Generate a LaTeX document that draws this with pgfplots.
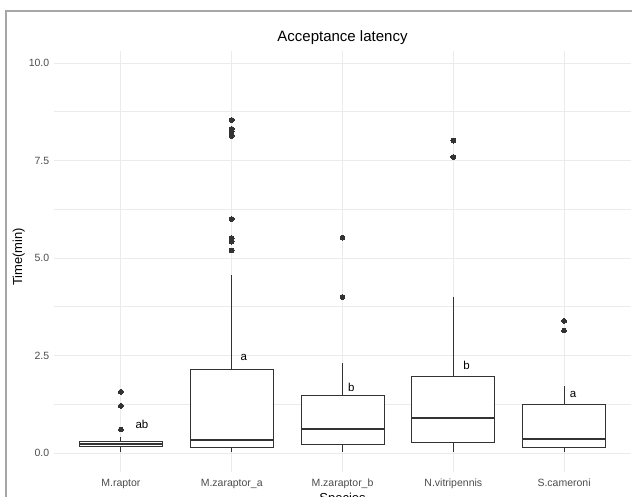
\documentclass[border=0pt]{standalone}
\usepackage{fontspec}
\setmainfont{Liberation Sans}
\usepackage{pgfplots}
\pgfplotsset{compat=1.18}
\usepgfplotslibrary{statistics}
\definecolor{gridc}{HTML}{EBEBEB}
\definecolor{tickc}{HTML}{4D4D4D}
\definecolor{boxc}{HTML}{333333}
\definecolor{framec}{HTML}{A6A6A6}
\pgfplotsset{
  bx/.style={boxc, line width=0.8pt, fill=white, mark=*, mark size=2.4pt,
    mark options={fill=boxc, draw=boxc, line width=0pt}},
}
\begin{document}
\begin{tikzpicture}[x=1pt,y=1pt]
\useasboundingbox (0,0) rectangle (632,497);
\fill[white] (0,0) rectangle (632,497);
\clip (0,0) rectangle (632,497);
\draw[framec, line width=2pt] (6,-2) -- (6,486) -- (640,486);
\begin{axis}[
  at={(54.4pt,24.5pt)}, anchor=south west,
  scale only axis, width=576.2pt, height=421.2pt,
  xmin=0.4, xmax=5.6, ymin=-0.5, ymax=10.3,
  xtick={1,2,3,4,5},
  xticklabels={M.raptor,M.zaraptor\_a,M.zaraptor\_b,N.vitripennis,S.cameroni},
  ytick={0,2.5,5,7.5,10},
  yticklabels={0.0,2.5,5.0,7.5,10.0},
  minor ytick={1.25,3.75,6.25,8.75},
  grid=both,
  major grid style={gridc, line width=0.9pt},
  minor grid style={gridc, line width=0.5pt},
  axis line style={draw=none},
  major tick length=0pt, minor tick length=0pt,
  tick style={draw=none},
  ticklabel style={font=\fontsize{10.5}{12}\selectfont, text=tickc},
  xticklabel style={anchor=base, inner sep=0pt, yshift=-14.2pt},
  yticklabel style={anchor=base east, inner sep=0pt, xshift=-5pt, yshift=-3.8pt},
  boxplot/draw direction=y,
  boxplot/every median/.style={line width=1.7pt},
  clip=false,
]
\addplot[bx, boxplot prepared={draw position=1, lower whisker=0.03, lower quartile=0.16, median=0.23, upper quartile=0.295, upper whisker=0.42, box extend=0.75, whisker extend=0}]
  table[row sep=\\, y index=0] {data\\ 1.57\\ 1.21\\ 0.60\\};
\addplot[bx, boxplot prepared={draw position=2, lower whisker=0.03, lower quartile=0.14, median=0.33, upper quartile=2.14, upper whisker=4.57, box extend=0.75, whisker extend=0}]
  table[row sep=\\, y index=0] {data\\ 8.54\\ 8.31\\ 8.24\\ 8.13\\ 6.00\\ 5.51\\ 5.42\\ 5.19\\};
\addplot[bx, boxplot prepared={draw position=3, lower whisker=0.03, lower quartile=0.22, median=0.61, upper quartile=1.47, upper whisker=2.30, box extend=0.75, whisker extend=0}]
  table[row sep=\\, y index=0] {data\\ 5.52\\ 4.00\\};
\addplot[bx, boxplot prepared={draw position=4, lower whisker=0.03, lower quartile=0.26, median=0.90, upper quartile=1.97, upper whisker=4.00, box extend=0.75, whisker extend=0}]
  table[row sep=\\, y index=0] {data\\ 8.01\\ 7.59\\};
\addplot[bx, boxplot prepared={draw position=5, lower whisker=0.03, lower quartile=0.14, median=0.35, upper quartile=1.24, upper whisker=1.71, box extend=0.75, whisker extend=0}]
  table[row sep=\\, y index=0] {data\\ 3.39\\ 3.14\\};
\begin{scope}[every node/.style={font=\fontsize{11.5}{13}\selectfont, text=black}]
\node at (axis cs:1.19,0.74) {ab};
\node at (axis cs:2.11,2.44) {a};
\node at (axis cs:3.08,1.68) {b};
\node at (axis cs:4.12,2.24) {b};
\node at (axis cs:5.08,1.51) {a};
\end{scope}
\end{axis}
\node[anchor=base, font=\fontsize{15}{17}\selectfont] at (342.5,455) {Acceptance latency};
\node[anchor=base, rotate=90, font=\fontsize{13}{15}\selectfont] at (22,240) {Time(min)};
\node[anchor=base, font=\fontsize{13}{15}\selectfont] at (342.5,-5.6) {Species};
\end{tikzpicture}
\end{document}
